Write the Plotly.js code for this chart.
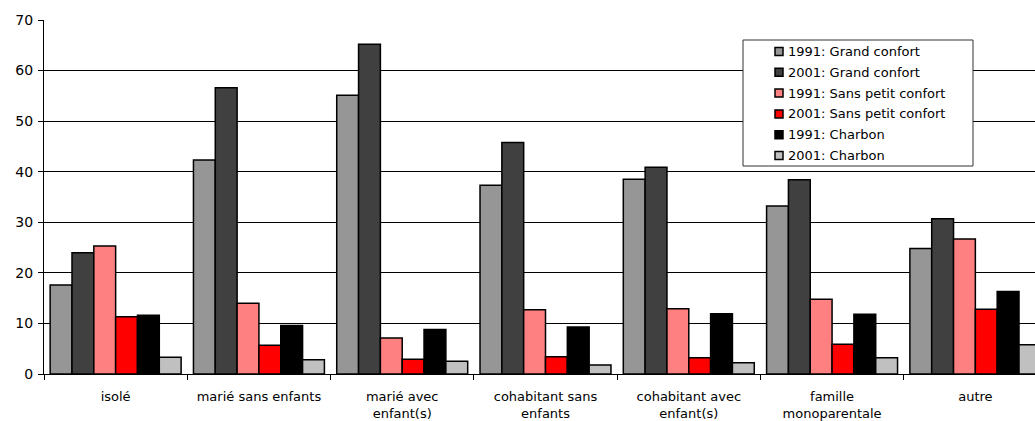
<!DOCTYPE html>
<html>
<head>
<meta charset="utf-8">
<script src="https://cdn.plot.ly/plotly-3.0.1.min.js"></script>
<style>
html,body{margin:0;padding:0;overflow:hidden;background:#fff;}
#chart{width:1060px;height:421px;}
</style>
</head>
<body>
<div id="chart"></div>
<script>
const categories = ["isolé", "marié sans enfants", "marié avec<br>enfant(s)", "cohabitant sans<br>enfants", "cohabitant avec<br>enfant(s)", "famille<br>monoparentale", "autre"];
const seriesNames = ["1991: Grand confort", "2001: Grand confort", "1991: Sans petit confort", "2001: Sans petit confort", "1991: Charbon", "2001: Charbon"];
const grandConfort1991 = [17.6, 42.3, 55.1, 37.3, 38.5, 33.2, 24.8];
const grandConfort2001 = [24.0, 56.6, 65.2, 45.8, 40.9, 38.4, 30.7];
const sansPetitConfort1991 = [25.3, 14.0, 7.1, 12.7, 12.9, 14.8, 26.7];
const sansPetitConfort2001 = [11.3, 5.7, 2.9, 3.4, 3.2, 5.9, 12.8];
const charbon1991 = [11.6, 9.6, 8.8, 9.3, 11.9, 11.8, 16.3];
const charbon2001 = [3.3, 2.8, 2.5, 1.8, 2.2, 3.2, 5.8];
const yTicks = [0, 10, 20, 30, 40, 50, 60, 70];

const seriesValues = [grandConfort1991, grandConfort2001, sansPetitConfort1991, sansPetitConfort2001, charbon1991, charbon2001];
const colors = ["#969696", "#404040", "#FF8080", "#FF0000", "#000000", "#C0C0C0"];

const FONT = "DejaVu Sans, Verdana, sans-serif";
const W = 1060, H = 421;
const M = {l: 44, r: 13, t: 20, b: 47};
const PW = W - M.l - M.r, PH = H - M.t - M.b;
const px2x = px => (px - M.l) / PW;
const py2y = py => (H - M.b - py) / PH;

const traces = seriesValues.map((vals, i) => ({
  type: "bar",
  name: seriesNames[i],
  x: categories,
  y: vals,
  marker: {color: colors[i], line: {color: "#000", width: 1.5}},
  hoverinfo: "x+y+name",
  showlegend: false
}));

// Legend drawn as a box of shapes + text annotations
const legBox = {x0: 743, x1: 973, y0: 40, y1: 166};
const legFirst = 51.5, legStep = 20.8, symX0 = 775, symSize = 8, textX = 786;
const shapes = [{
  type: "rect", xref: "paper", yref: "paper",
  x0: px2x(legBox.x0), x1: px2x(legBox.x1), y0: py2y(legBox.y0), y1: py2y(legBox.y1),
  line: {color: "#333", width: 1}, fillcolor: "#fff", layer: "above"
}];
const annotations = [];
seriesNames.forEach((name, i) => {
  const cy = legFirst + i * legStep;
  shapes.push({
    type: "rect", xref: "paper", yref: "paper",
    x0: px2x(symX0), x1: px2x(symX0 + symSize),
    y0: py2y(cy - symSize / 2), y1: py2y(cy + symSize / 2),
    line: {color: "#000", width: 1.5}, fillcolor: colors[i], layer: "above"
  });
  annotations.push({
    xref: "paper", yref: "paper", x: px2x(textX), y: py2y(cy),
    xanchor: "left", yanchor: "middle", showarrow: false,
    text: name, font: {family: FONT, size: 13, color: "#000"}
  });
});

const layout = {
  width: W,
  height: H,
  margin: {l: M.l, r: M.r, t: M.t, b: M.b, pad: 0},
  paper_bgcolor: "#fff",
  plot_bgcolor: "#fff",
  font: {family: FONT, size: 13, color: "#000"},
  barmode: "group",
  bargap: 0.086,
  bargroupgap: 0,
  showlegend: false,
  shapes: shapes,
  annotations: annotations,
  xaxis: {
    type: "category",
    showline: true, linecolor: "#000", linewidth: 1,
    ticks: "outside", ticklen: 5, tickcolor: "#000",
    tickson: "boundaries",
    showgrid: false,
    tickfont: {family: FONT, size: 13},
    ticklabelstandoff: 10,
    fixedrange: true
  },
  yaxis: {
    range: [0, 70],
    tickvals: yTicks,
    ticktext: yTicks.map(String),
    showline: true, linecolor: "#000", linewidth: 1,
    ticks: "outside", ticklen: 5, tickcolor: "#000",
    showgrid: true, gridcolor: "#000", gridwidth: 1,
    zeroline: false,
    tickfont: {family: FONT, size: 14},
    ticklabelstandoff: 2,
    fixedrange: true
  }
};

Plotly.newPlot("chart", traces, layout, {displayModeBar: false});
</script>
</body>
</html>
